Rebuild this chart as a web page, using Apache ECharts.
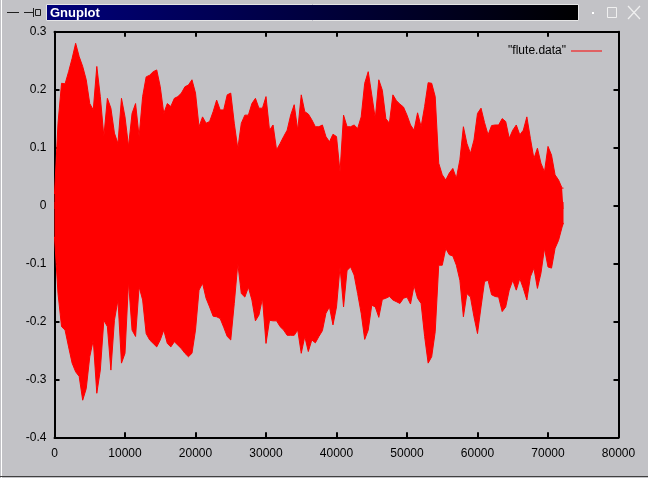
<!DOCTYPE html>
<html>
<head>
<meta charset="utf-8">
<script src="https://cdn.jsdelivr.net/npm/echarts@6/dist/echarts.min.js"></script>
<style>
html,body{margin:0;padding:0;background:#c2c2c6;}
#chart{width:648px;height:478px;}
</style>
</head>
<body>
<div id="chart"></div>
<script>
// sample index (x) at which the envelope was read
var sampleIdx = [0,500,1000,1500,2000,2500,3000,3500,4000,4500,5000,5500,6000,6500,7000,7500,8000,8500,9000,9500,
10000,10500,11000,11500,12000,12500,13000,13500,14000,14500,15000,15500,16000,16500,17000,17500,18000,18500,19000,19500,
20000,20500,21000,21500,22000,22500,23000,23500,24000,24500,25000,25500,26000,26500,27000,27500,28000,28500,29000,29500,
30000,30500,31000,31500,32000,32500,33000,33500,34000,34500,35000,35500,36000,36500,37000,37500,38000,38500,39000,39500,
40000,40500,41000,41500,42000,42500,43000,43500,44000,44500,45000,45500,46000,46500,47000,47500,48000,48500,49000,49500,
50000,50500,51000,51500,52000,52500,53000,53500,54000,54500,55000,55500,56000,56500,57000,57500,58000,58500,59000,59500,
60000,60500,61000,61500,62000,62500,63000,63500,64000,64500,65000,65500,66000,66500,67000,67500,68000,68500,69000,69500,
70000,70500,71000,71500,72000,72200];
// upper envelope of "flute.data"
var upperEnv = [0.02,0.142,0.211,0.21,0.231,0.254,0.28,0.257,0.24,0.217,
0.176,0.165,0.24,0.188,0.119,0.185,0.168,0.125,0.107,0.185,
0.153,0.102,0.159,0.176,0.119,0.188,0.222,0.225,0.231,0.234,
0.205,0.159,0.176,0.171,0.185,0.188,0.194,0.205,0.208,0.217,
0.194,0.136,0.153,0.142,0.145,0.162,0.182,0.165,0.165,0.191,
0.194,0.142,0.098,0.142,0.156,0.156,0.176,0.185,0.168,0.168,
0.188,0.13,0.139,0.096,0.107,0.119,0.13,0.156,0.174,0.13,
0.191,0.162,0.158,0.148,0.136,0.136,0.139,0.119,0.11,0.123,
0.119,0.058,0.156,0.136,0.136,0.139,0.133,0.153,0.211,0.231,
0.191,0.15,0.217,0.199,0.15,0.142,0.191,0.181,0.175,0.17,
0.156,0.139,0.13,0.16,0.136,0.171,0.212,0.211,0.188,0.073,
0.053,0.044,0.056,0.064,0.047,0.079,0.136,0.107,0.09,0.113,
0.159,0.168,0.143,0.122,0.138,0.139,0.139,0.15,0.145,0.116,
0.13,0.139,0.122,0.13,0.153,0.116,0.081,0.099,0.073,0.058,
0.102,0.087,0.053,0.044,0.03,0.03];
// lower envelope of "flute.data"
var lowerEnv = [-0.054,-0.152,-0.209,-0.215,-0.244,-0.272,-0.287,-0.295,-0.336,-0.316,
-0.261,-0.232,-0.324,-0.284,-0.198,-0.209,-0.284,-0.198,-0.163,-0.272,
-0.255,-0.131,-0.215,-0.226,-0.14,-0.163,-0.221,-0.232,-0.238,-0.244,
-0.232,-0.215,-0.238,-0.244,-0.235,-0.241,-0.247,-0.255,-0.261,-0.255,
-0.215,-0.146,-0.134,-0.16,-0.175,-0.191,-0.192,-0.195,-0.21,-0.226,
-0.232,-0.169,-0.1,-0.152,-0.158,-0.141,-0.163,-0.199,-0.189,-0.16,
-0.238,-0.198,-0.199,-0.199,-0.209,-0.215,-0.224,-0.224,-0.224,-0.215,
-0.255,-0.226,-0.252,-0.232,-0.237,-0.226,-0.216,-0.186,-0.175,-0.206,
-0.175,-0.106,-0.175,-0.112,-0.106,-0.12,-0.152,-0.186,-0.231,-0.215,
-0.172,-0.175,-0.193,-0.162,-0.16,-0.157,-0.163,-0.166,-0.169,-0.16,
-0.158,-0.17,-0.138,-0.16,-0.169,-0.226,-0.272,-0.261,-0.218,-0.103,
-0.103,-0.074,-0.085,-0.087,-0.103,-0.129,-0.192,-0.152,-0.158,-0.192,
-0.221,-0.175,-0.131,-0.129,-0.154,-0.157,-0.158,-0.183,-0.175,-0.146,
-0.129,-0.146,-0.126,-0.143,-0.163,-0.123,-0.108,-0.143,-0.117,-0.074,
-0.106,-0.108,-0.074,-0.06,-0.037,-0.03];
var seriesName = 'flute.data';
var xMin = 0, xMax = 80000, xStep = 10000;
var yMin = -0.4, yMax = 0.3, yStep = 0.1;
var windowTitle = 'Gnuplot';

var upperData = sampleIdx.map(function(x,i){return [x, upperEnv[i]];});
var lowerData = sampleIdx.map(function(x,i){return [x, lowerEnv[i]];});

var FONT = '"Liberation Sans", Arial, sans-serif';
var chart = echarts.init(document.getElementById('chart'), null, {renderer:'canvas'});

function xAxisCfg(pos, showLabel){
  return {type:'value', position:pos, min:xMin, max:xMax, interval:xStep,
    axisLine:{show:true, onZero:false, lineStyle:{color:'#000', width:2}},
    axisTick:{show:true, inside:true, length:5, lineStyle:{color:'#000', width:2}},
    splitLine:{show:false},
    axisLabel:{show:showLabel, color:'#000', fontSize:12, fontFamily:FONT, margin:10, showMinLabel:true, showMaxLabel:true,
      formatter:function(v){return String(Math.round(v));}}};
}
function yAxisCfg(pos, showLabel){
  return {type:'value', position:pos, min:yMin, max:yMax, interval:yStep,
    axisLine:{show:true, onZero:false, lineStyle:{color:'#000', width:2}},
    axisTick:{show:true, inside:true, length:5, lineStyle:{color:'#000', width:2}},
    splitLine:{show:false},
    axisLabel:{show:showLabel, color:'#000', fontSize:12, fontFamily:FONT, margin:8,
      formatter:function(v){var r = Math.round(v*10)/10; return r===0 ? '0' : String(r);}}};
}

var option = {
  animation:false,
  backgroundColor:'#c2c2c6',
  grid:{left:54.5, right:29.5, top:31.7, bottom:40.7, containLabel:false},
  xAxis:[xAxisCfg('bottom', true), xAxisCfg('top', false)],
  yAxis:[yAxisCfg('left', true), yAxisCfg('right', false)],
  legend:{data:[{name:seriesName, icon:'rect'}], right:41, top:40, align:'right',
    itemWidth:31, itemHeight:1, itemGap:5,
    formatter:function(n){return '"' + n + '"';},
    textStyle:{color:'#000', fontSize:12, fontFamily:FONT, padding:[0,0,0,0]}},
  series:[
    {name:seriesName, type:'line', xAxisIndex:0, yAxisIndex:0, data:upperData, showSymbol:false,
      lineStyle:{color:'#ff0000', width:1}, itemStyle:{color:'#ff0000'},
      areaStyle:{color:'#ff0000', opacity:1, origin:-0.006}},
    {name:seriesName, type:'line', xAxisIndex:0, yAxisIndex:0, data:lowerData, showSymbol:false,
      lineStyle:{color:'#ff0000', width:1}, itemStyle:{color:'#ff0000'},
      areaStyle:{color:'#ff0000', opacity:1, origin:0.006}}
  ],
  graphic:[
    // window frame
    {type:'line', shape:{x1:1.5,y1:0,x2:1.5,y2:478}, style:{stroke:'#ffffff', lineWidth:1}},
    {type:'line', shape:{x1:0,y1:476.5,x2:648,y2:476.5}, style:{stroke:'#404040', lineWidth:1}},
    // title bar
    {type:'rect', shape:{x:46.5,y:4.5,width:532,height:16},
      style:{fill:new echarts.graphic.LinearGradient(0,0,1,0,[{offset:0,color:'#00007b'},{offset:1,color:'#000000'}]),
             stroke:'#e6e6e6', lineWidth:1}},
    {type:'text', x:50, y:13, style:{text:windowTitle, fill:'#ffffff', font:'bold 13px ' + FONT, verticalAlign:'middle'}},
    // left window icons
    {type:'line', shape:{x1:7,y1:12.5,x2:19,y2:12.5}, style:{stroke:'#202020', lineWidth:1}},
    {type:'line', shape:{x1:24,y1:12.5,x2:33,y2:12.5}, style:{stroke:'#202020', lineWidth:1}},
    {type:'line', shape:{x1:33.5,y1:8,x2:33.5,y2:17}, style:{stroke:'#202020', lineWidth:1}},
    {type:'rect', shape:{x:35.5,y:9.5,width:5,height:6}, style:{fill:'none', stroke:'#202020', lineWidth:1}},
    // right window icons
    {type:'rect', shape:{x:592,y:12,width:2,height:2}, style:{fill:'#ffffff'}},
    {type:'rect', shape:{x:607.5,y:7.5,width:9,height:10}, style:{fill:'none', stroke:'#f0f0f0', lineWidth:1}},
    {type:'line', shape:{x1:628,y1:6,x2:640,y2:19}, style:{stroke:'#f0f0f0', lineWidth:1.2}},
    {type:'line', shape:{x1:640,y1:6,x2:628,y2:19}, style:{stroke:'#f0f0f0', lineWidth:1.2}}
  ]
};
chart.setOption(option);
</script>
</body>
</html>
